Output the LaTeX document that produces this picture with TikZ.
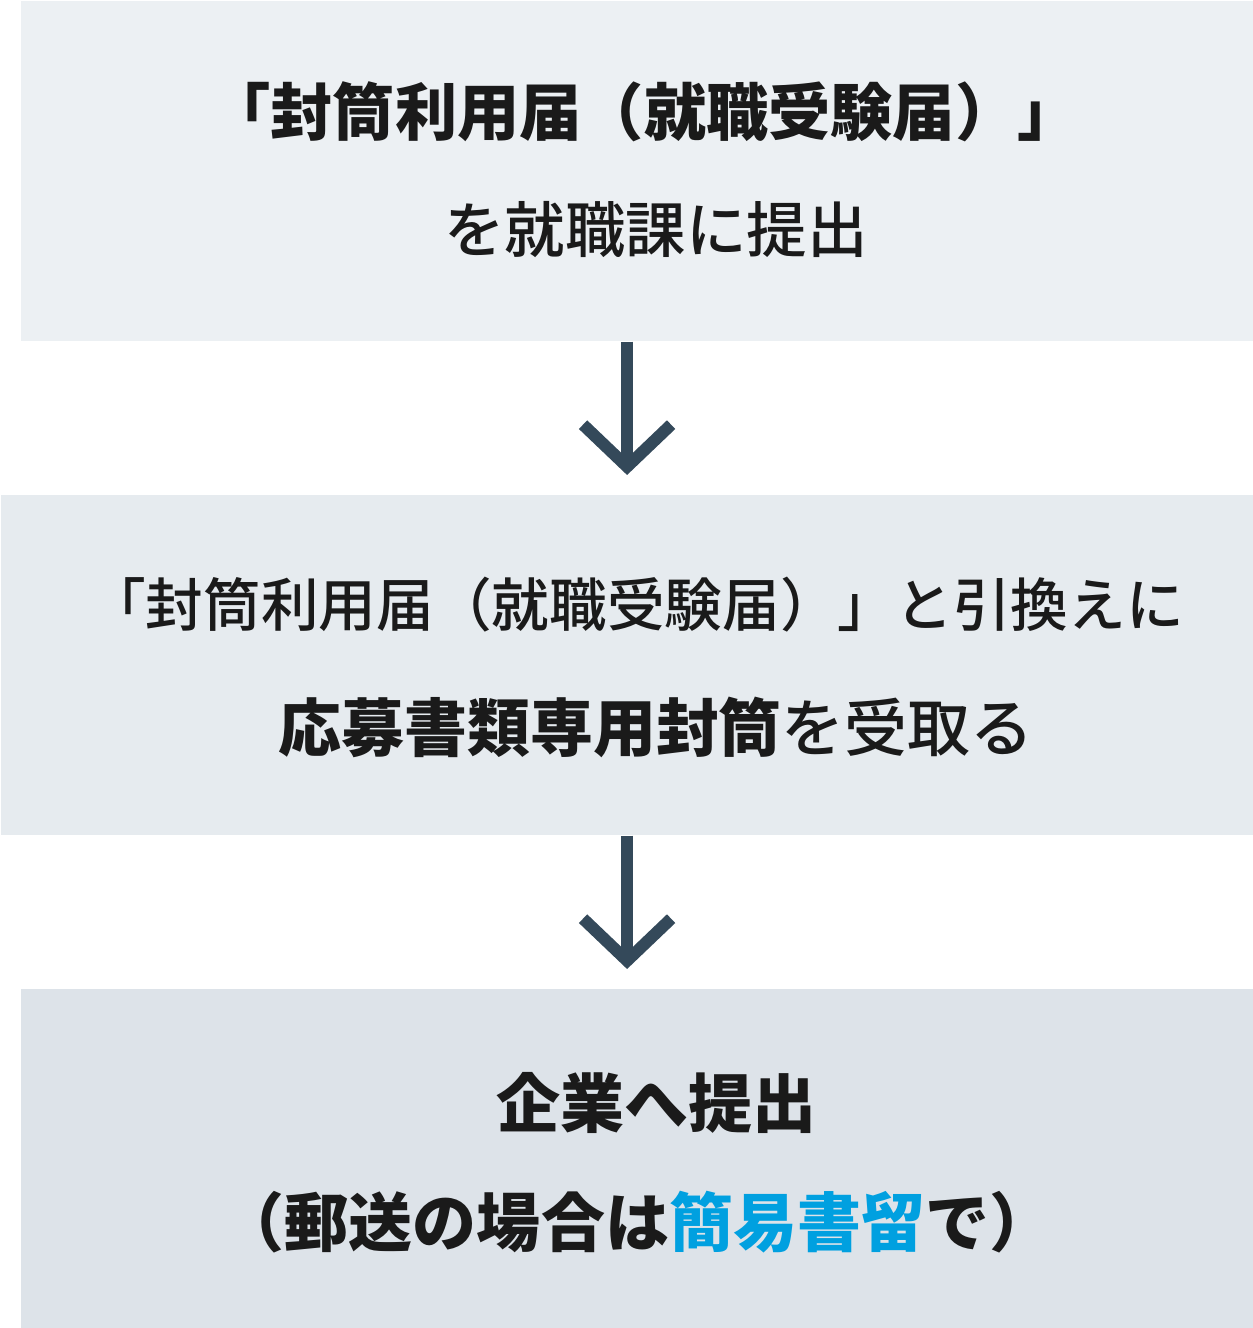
\documentclass[tikz,border=0pt]{standalone}
\usepackage{fontspec}
\setmainfont{Noto Sans CJK JP}
\IfFontExistsTF{Noto Sans CJK JP Medium}
  {\newfontfamily\medfont{Noto Sans CJK JP Medium}}
  {\newcommand\medfont{\normalfont}}
\usetikzlibrary{arrows.meta, positioning}
\definecolor{boxfirst}{HTML}{ECF0F3}
\definecolor{boxsecond}{HTML}{E6EBEF}
\definecolor{boxthird}{HTML}{DDE3E9}
\definecolor{inkblack}{HTML}{1A1A1A}
\definecolor{arrowslate}{HTML}{34495A}
\definecolor{markblue}{HTML}{00A0E0}

\begin{document}
\begin{tikzpicture}[
    x=0.01cm, y=-0.01cm,
    stepbox/.style={rectangle, inner sep=0pt, anchor=north west, minimum height=3.4cm},
    steptext/.style={inner sep=0pt, text=inkblack, font=\fontsize{#1}{20}\selectfont\medfont},
    stepbold/.style={inner sep=0pt, text=inkblack, font=\fontsize{#1}{20}\selectfont\bfseries},
    flow/.style={-{Straight Barb[length=0.42cm, width=0.88cm]}, line width=0.12cm, draw=arrowslate, shorten >=0.19cm}
]
\useasboundingbox (0,0) rectangle (1252,1328);
% boxes
\node[stepbox, fill=boxfirst, minimum width=12.32cm] (submit) at (20,0) {};
\node[stepbox, fill=boxsecond, minimum width=12.52cm] (receive) at (0,494) {};
\node[stepbox, fill=boxthird, minimum width=12.32cm] (company) at (20,988) {};
% texts
\node[stepbold=17.7] (submit1) at (644,112) {「封筒利用届（就職受験届）」};
\node[steptext=17.2] (submit2) at (656,230) {を就職課に提出};
\node[steptext=16.4] (receive1) at (636,605) {「封筒利用届（就職受験届）」と引換えに};
\node[steptext=17.9] (receive2) at (656,727) {{\normalfont\bfseries 応募書類専用封筒}を受取る};
\node[stepbold=18.2] (company1) at (656,1103) {企業へ提出};
\node[stepbold=18.2] (company2) at (637,1222) {（郵送の場合は\textcolor{markblue}{簡易書留}で）};
% arrows
\draw[flow] (submit.south -| receive.north) -- (receive.north);
\draw[flow] (receive.south) -- (receive.south |- company.north);
\end{tikzpicture}
\end{document}
